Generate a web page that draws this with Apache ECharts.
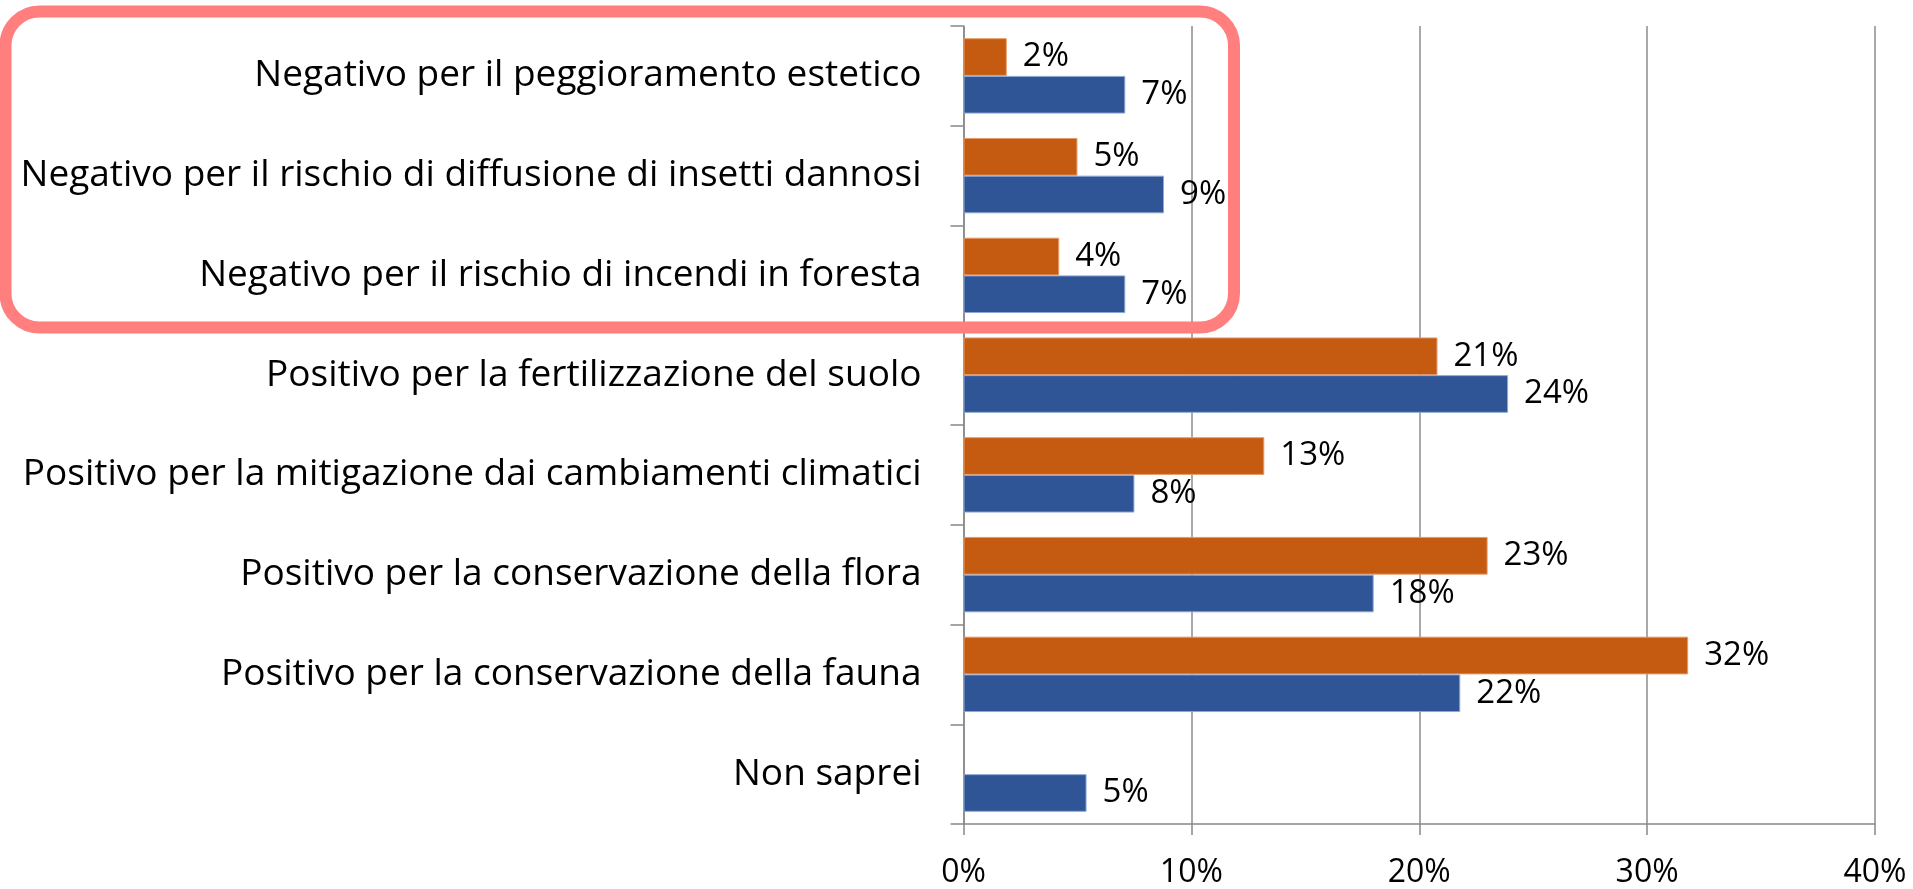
<!DOCTYPE html>
<html>
<head>
<meta charset="utf-8">
<script src="https://cdn.jsdelivr.net/npm/echarts@6/dist/echarts.min.js"></script>
<style>
  html, body { margin: 0; padding: 0; background: #ffffff; }
  #chart { width: 1913px; height: 889px; }
</style>
</head>
<body>
<div id="chart"></div>
<script>
// Categories, listed top to bottom
const categories = [
  'Negativo per il peggioramento estetico',
  'Negativo per il rischio di diffusione di insetti dannosi',
  'Negativo per il rischio di incendi in foresta',
  'Positivo per la fertilizzazione del suolo',
  'Positivo per la mitigazione dai cambiamenti climatici',
  'Positivo per la conservazione della flora',
  'Positivo per la conservazione della fauna',
  'Non saprei'
];

// Shares in percent (orange series drawn above the blue one in each row)
const orangeValues = [1.9, 5.0, 4.2, 20.8, 13.2, 23.0, 31.8, null];
const blueValues   = [7.1, 8.8, 7.1, 23.9, 7.5, 18.0, 21.8, 5.4];

// Value axis ticks
const xTicks = [0, 10, 20, 30, 40];

const FONT = '"Open Sans", "Noto Sans", sans-serif';

const chart = echarts.init(document.getElementById('chart'), null, { renderer: 'canvas' });

const pctLabel = {
  show: true,
  position: 'right',
  distance: 16,
  color: '#000000',
  fontFamily: FONT,
  fontSize: 33,
  formatter: p => Math.round(p.value) + '%'
};

chart.setOption({
  animation: false,
  backgroundColor: '#ffffff',
  grid: { left: 963.5, right: 38, top: 26, bottom: 65, containLabel: false },
  xAxis: {
    type: 'value',
    min: xTicks[0],
    max: xTicks[xTicks.length - 1],
    interval: 10,
    axisLine: { show: true, lineStyle: { color: '#888888', width: 1.5 } },
    axisTick: { show: true, length: 11, lineStyle: { color: '#888888', width: 1.5 } },
    splitLine: { show: true, lineStyle: { color: '#8c8c8c', width: 1.5 } },
    axisLabel: {
      margin: 33,
      color: '#000000',
      fontFamily: FONT,
      fontSize: 32,
      formatter: v => v + '%'
    }
  },
  yAxis: {
    type: 'category',
    inverse: true,
    data: categories,
    axisLine: { show: true, lineStyle: { color: '#888888', width: 1.5 } },
    axisTick: { show: true, length: 13, alignWithLabel: false, lineStyle: { color: '#888888', width: 1.5 } },
    splitLine: { show: false },
    axisLabel: {
      margin: 42,
      color: '#000000',
      fontFamily: FONT,
      fontSize: 37
    }
  },
  series: [
    {
      name: 'A',
      type: 'bar',
      data: orangeValues,
      barWidth: 37.7,
      barGap: '0%',
      itemStyle: { color: '#C55A11', borderColor: '#E59A6A', borderWidth: 1 },
      label: pctLabel
    },
    {
      name: 'B',
      type: 'bar',
      data: blueValues,
      barWidth: 37.7,
      barGap: '0%',
      itemStyle: { color: '#2F5597', borderColor: '#8FA8D2', borderWidth: 1 },
      label: pctLabel
    }
  ],
  graphic: [
    {
      type: 'rect',
      z: 100,
      shape: { x: 5.5, y: 11.5, width: 1228.5, height: 316, r: 34 },
      style: { fill: 'none', stroke: '#FF7F7F', lineWidth: 12 }
    }
  ]
});
</script>
</body>
</html>
